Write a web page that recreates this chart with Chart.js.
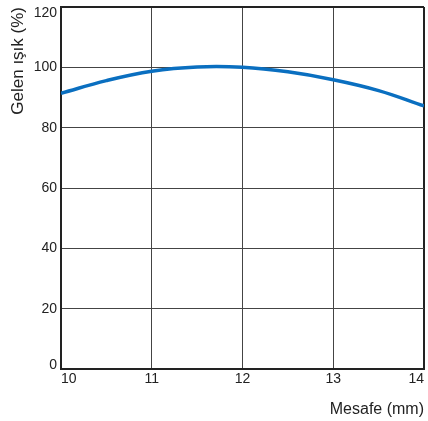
<!DOCTYPE html>
<html>
<head>
<meta charset="utf-8">
<script src="https://cdn.jsdelivr.net/npm/chart.js@4/dist/chart.umd.min.js"></script>
<style>
  html, body { margin: 0; padding: 0; background: #fff; }
  #wrap { width: 428px; height: 421px; position: relative; }
</style>
</head>
<body>
<div id="wrap"><canvas id="c" width="428" height="421"></canvas></div>
<script>
const distances = [10, 10.5, 11, 11.5, 12, 12.5, 13, 13.5, 14];
const lightValues = [91.4, 95.6, 98.7, 100.1, 100.0, 98.5, 95.9, 92.3, 87.2];
const xTitle = 'Mesafe (mm)';
const yTitle = 'Gelen ışık (%)';

const points = distances.map((d, i) => ({ x: d, y: lightValues[i] }));
const FONT = 'Liberation Sans, Arial, sans-serif';

// draws the y-axis tick labels from the scale's own ticks, nudging the end labels inside
const yLabels = {
  id: 'yLabels',
  afterDraw(chart) {
    const s = chart.scales.y;
    const ctx = chart.ctx;
    ctx.save();
    ctx.font = '14px ' + FONT;
    ctx.fillStyle = '#222';
    ctx.textAlign = 'right';
    ctx.textBaseline = 'middle';
    const n = s.ticks.length;
    s.ticks.forEach((t, i) => {
      let y = s.getPixelForValue(t.value);
      if (i === n - 1) y += 6;
      if (i === 0) y -= 4;
      ctx.fillText(String(t.value), s.right - 4, y);
    });
    ctx.restore();
  }
};

new Chart(document.getElementById('c'), {
  type: 'line',
  data: {
    datasets: [{
      data: points,
      borderColor: '#0a6fc0',
      borderWidth: 3.5,
      pointRadius: 0,
      fill: false,
      tension: 0.4
    }]
  },
  plugins: [yLabels],
  options: {
    responsive: false,
    animation: false,
    devicePixelRatio: 1,
    layout: { padding: { top: 7, right: 4, left: 0, bottom: 0 } },
    plugins: { legend: { display: false }, tooltip: { enabled: false } },
    scales: {
      x: {
        type: 'linear',
        min: 10, max: 14,
        afterFit: s => { s.height = 52; },
        ticks: { stepSize: 1, align: 'inner', padding: 2, color: '#222', font: { family: FONT, size: 14 } },
        grid: {
          drawTicks: false,
          color: ctx => ctx.tick && ctx.tick.value === 14 ? '#222' : '#444',
          lineWidth: ctx => ctx.tick && ctx.tick.value === 14 ? 2 : 1
        },
        border: { display: true, color: '#222', width: 2 },
        title: { display: true, text: xTitle, align: 'end', color: '#222', font: { family: FONT, size: 16 }, padding: { top: 0, bottom: 2 } }
      },
      y: {
        min: 0, max: 120,
        afterFit: s => { s.width = 61; },
        ticks: { display: false, stepSize: 20 },
        grid: {
          drawTicks: false,
          color: ctx => ctx.tick && ctx.tick.value === 120 ? '#222' : '#444',
          lineWidth: ctx => ctx.tick && ctx.tick.value === 120 ? 2 : 1
        },
        border: { display: true, color: '#222', width: 2 },
        title: { display: true, text: yTitle, align: 'end', color: '#222', font: { family: FONT, size: 17 }, padding: { top: 8, bottom: 0 } }
      }
    }
  }
});
</script>
</body>
</html>
